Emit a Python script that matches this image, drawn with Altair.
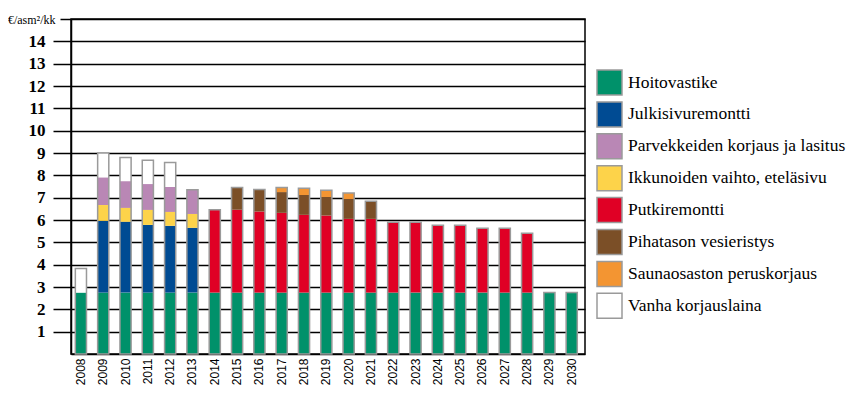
import altair as alt
import pandas as pd

years = [str(y) for y in range(2008, 2031)]

series_names = [
    "Hoitovastike",
    "Julkisivuremontti",
    "Parvekkeiden korjaus ja lasitus",
    "Ikkunoiden vaihto, eteläsivu",
    "Putkiremontti",
    "Pihatason vesieristys",
    "Saunaosaston peruskorjaus",
    "Vanha korjauslaina",
]
colors = ["#00916A", "#004B93", "#B987B5", "#FDD34A", "#E00025", "#7B4F27", "#F39532", "#FFFFFF"]

# stacking rank, bottom first
stack_rank = [0, 1, 3, 2, 4, 5, 6, 7]

hoitovastike = [2.75] * 23
julkisivu = [0, 3.21, 3.17, 3.03, 2.99, 2.90] + [0] * 17
parveke = [0, 1.24, 1.20, 1.16, 1.12, 1.09] + [0] * 17
ikkuna = [0, 0.71, 0.62, 0.67, 0.62, 0.62] + [0] * 17
putki = [0] * 6 + [3.71, 3.71, 3.63, 3.57, 3.48, 3.45, 3.30, 3.30, 3.15, 3.15, 3.02, 3.02, 2.88, 2.88, 2.66] + [0, 0]
piha = [0] * 7 + [1.00, 0.99, 0.93, 0.89, 0.83, 0.89, 0.79] + [0] * 9
sauna = [0] * 9 + [0.21, 0.30, 0.30, 0.27] + [0] * 10
vanha = [1.08, 1.09, 1.06, 1.06, 1.10] + [0] * 18

series_values = [hoitovastike, julkisivu, parveke, ikkuna, putki, piha, sauna, vanha]

y_ticks = list(range(1, 16))
unit_label = "€/asm²/kk"

SERIF = "Liberation Serif"

rows = []
for name, rank, vals in zip(series_names, stack_rank, series_values):
    for yr, v in zip(years, vals):
        if v > 0:
            rows.append({"year": yr, "series": name, "value": v, "rank": rank})
df = pd.DataFrame(rows)

x_scale = alt.Scale(paddingInner=0.5, paddingOuter=0.27, align=0.36)
x_axis = alt.Axis(
    labelAngle=-90, labelFont="Liberation Sans", labelFontSize=12, labelColor="black",
    ticks=False, domainColor="black", domainWidth=1.5, labelPadding=4, grid=False,
)
y_scale = alt.Scale(domain=[0, 15], nice=False)
y_axis = alt.Axis(
    values=y_ticks,
    labelExpr=f"datum.value == 15 ? '{unit_label}' : datum.label",
    labelFont=SERIF,
    labelFontSize={"condition": {"test": "datum.value == 15", "value": 12}, "value": 17},
    labelFontWeight={"condition": {"test": "datum.value == 15", "value": "normal"}, "value": "bold"},
    labelPadding={"condition": {"test": "datum.value == 15", "value": 5}, "value": 8},
    tickSize={"condition": {"test": "datum.value == 15", "value": 11}, "value": 18},
    labelColor="black", tickColor="black", tickWidth=1.5,
    domainColor="black", domainWidth=1.5,
    grid=True, gridColor="black", gridWidth=1.5, gridOpacity=1,
)

bars = alt.Chart(df).mark_bar().encode(
    x=alt.X("year:O", title=None, scale=x_scale, axis=x_axis),
    y=alt.Y("value:Q", title=None, scale=y_scale, axis=y_axis, stack="zero"),
    color=alt.Color(
        "series:N",
        scale=alt.Scale(domain=series_names, range=colors),
        legend=alt.Legend(
            title=None, orient="none", legendX=525, legendY=50,
            symbolType="square", symbolSize=625, symbolStrokeColor="#9a9a9a",
            symbolStrokeWidth=1.5, symbolOpacity=1,
            labelFont=SERIF, labelFontSize=17.5, labelColor="black",
            rowPadding=0.9, labelOffset=5, padding=0, labelLimit=0,
        ),
    ),
    order=alt.Order("rank:Q", sort="ascending"),
)

outline = alt.Chart(df).mark_bar(fill="transparent", stroke="#9a9a9a", strokeWidth=1.5).encode(
    x=alt.X("year:O", title=None, scale=x_scale, axis=x_axis),
    y=alt.Y("sum(value):Q", title=None, scale=y_scale, axis=y_axis),
)

chart = alt.layer(bars, outline).properties(
    width=514, height=335,
    autosize=alt.AutoSizeParams(type="none"),
    padding={"left": 63, "top": 11, "right": 266, "bottom": 31},
    background="white",
).configure_view(stroke="black", strokeWidth=1.5)

chart.save("out.html", embed_options={"renderer": "svg", "actions": False})
